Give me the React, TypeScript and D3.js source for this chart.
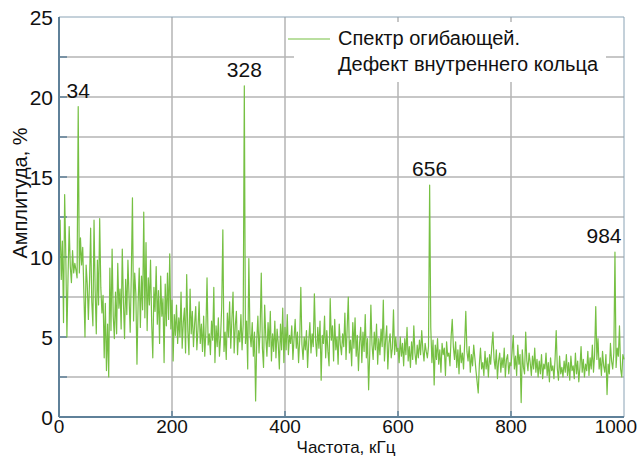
import React from "react";
import * as d3 from "d3";

// Envelope spectrum, inner race defect. One value every 2 kHz, 0..1000 kHz
const freqStep = 2;
const amplitude: number[] = [
  9.2, 12.3, 8.6, 11.0, 5.9, 13.9, 10.2, 5.0, 8.8, 11.9, 9.4, 8.4, 10.4, 9.0, 9.6, 9.2, 8.7, 19.4, 9.0, 11.2, 9.5, 10.6, 7.8, 5.0, 9.5,
  8.3, 6.1, 8.4, 11.8, 7.2, 5.7, 12.3, 7.9, 5.2, 9.8, 7.0, 12.4, 8.1, 6.5, 7.6, 3.7, 7.1, 2.9, 5.8, 2.5, 9.3, 5.4, 10.5, 6.3, 4.9,
  7.8, 5.2, 9.6, 6.8, 8.0, 5.5, 10.5, 7.2, 4.9, 8.6, 6.4, 9.8, 7.5, 5.3, 8.9, 13.7, 6.0, 9.0, 7.7, 3.3, 7.1, 9.3, 5.6, 8.8, 6.7,
  12.8, 6.2, 10.9, 5.4, 8.7, 7.0, 9.8, 5.9, 3.7, 8.1, 6.6, 9.4, 5.8, 7.9, 4.6, 8.8, 6.3, 7.4, 3.4, 8.3, 5.7, 9.0, 6.1, 10.2, 5.5,
  7.3, 3.5, 6.4, 5.1, 7.0, 4.6, 6.2, 5.0, 7.8, 4.3, 5.9, 6.8, 4.0, 8.9, 5.4, 3.9, 8.0, 5.2, 6.6, 4.4, 5.8, 6.9, 4.2, 5.5, 7.2,
  4.6, 5.8, 4.1, 6.3, 3.8, 5.4, 8.7, 4.5, 5.2, 3.9, 6.0, 4.8, 8.1, 3.4, 5.7, 4.4, 6.2, 3.8, 5.0, 6.9, 11.7, 4.1, 5.3, 3.6, 6.5,
  5.0, 7.2, 4.3, 6.1, 7.8, 4.0, 5.7, 6.6, 3.9, 5.4, 4.7, 6.4, 4.2, 5.8, 20.7, 4.6, 6.0, 3.0, 9.9, 5.2, 4.4, 5.9, 3.8, 5.3, 1.0,
  4.8, 6.3, 4.0, 5.5, 9.0, 4.3, 3.1, 7.0, 5.0, 3.8, 5.9, 4.4, 6.6, 3.5, 5.2, 4.1, 6.0, 3.7, 5.5, 4.6, 3.0, 5.8, 4.2, 6.8, 3.4,
  5.6, 4.2, 6.4, 3.9, 5.1, 4.6, 5.7, 3.6, 4.9, 6.1, 4.3, 5.3, 3.4, 4.8, 8.1, 4.5, 3.6, 5.0, 4.2, 5.4, 3.1, 4.7, 5.9, 4.0, 5.2,
  4.4, 7.7, 4.9, 3.8, 5.6, 4.3, 6.0, 2.3, 5.1, 4.6, 6.3, 3.7, 5.4, 4.1, 3.2, 7.4, 4.8, 5.7, 3.5, 6.1, 4.2, 5.0, 3.3, 5.8, 4.5,
  3.9, 5.2, 4.4, 6.5, 3.6, 5.5, 7.5, 4.0, 4.8, 3.2, 5.9, 4.3, 6.2, 3.8, 5.1, 2.9, 4.6, 5.6, 3.4, 5.3, 4.1, 6.4, 3.7, 4.9, 1.7,
  4.0, 7.0, 4.5, 3.6, 5.3, 4.2, 5.8, 3.3, 4.9, 3.9, 5.5, 4.4, 7.3, 3.5, 4.8, 5.7, 3.0, 4.6, 5.2, 3.7, 4.3, 6.7, 3.9, 5.0, 4.1,
  4.3, 3.4, 5.0, 3.8, 4.6, 3.2, 4.9, 3.9, 5.6, 3.5, 4.4, 3.1, 4.7, 3.6, 5.7, 4.0, 3.3, 4.5, 3.7, 4.8, 3.9, 5.4, 4.2, 3.5, 4.6,
  4.1, 3.7, 4.4, 14.5, 5.6, 3.4, 4.8, 2.0, 4.5, 3.6, 4.9, 3.3, 4.2, 2.8, 4.6, 3.9, 4.3, 2.6, 4.7, 3.8, 4.0, 3.2, 5.0, 6.1, 4.4,
  3.6, 4.7, 3.1, 4.2, 2.7, 4.5, 3.4, 4.0, 3.0, 4.6, 6.6, 4.1, 3.5, 4.4, 2.8, 3.9, 3.2, 4.5, 3.7, 2.9, 2.2, 1.5, 3.3, 4.3, 3.0,
  3.4, 2.6, 4.1, 3.0, 3.7, 2.5, 3.9, 3.3, 4.4, 5.3, 3.6, 3.0, 4.2, 2.4, 3.5, 4.0, 2.8, 3.7, 3.1, 4.3, 2.5, 3.6, 3.9, 2.7, 3.4,
  3.2, 4.1, 5.1, 3.0, 3.8, 2.6, 4.5, 3.3, 3.9, 0.9, 4.2, 3.1, 2.7, 5.3, 3.5, 2.9, 4.0, 3.4, 2.6, 3.8, 3.0, 4.3, 2.8, 3.6, 2.5,
  3.5, 2.7, 3.9, 2.4, 3.3, 3.0, 4.0, 2.6, 3.4, 2.2, 3.7, 2.9, 3.2, 2.4, 3.6, 5.4, 3.0, 2.3, 3.8, 2.7, 3.1, 2.5, 3.5, 2.8, 3.9,
  2.6, 3.4, 2.3, 3.8, 2.9, 3.2, 2.4, 4.0, 2.7, 3.5, 2.2, 3.1, 4.4, 2.8, 3.6, 2.5, 3.3, 2.9, 4.1, 2.6, 3.7, 3.0, 4.5, 2.8, 3.9,
  6.9, 3.6, 4.9, 3.0, 3.7, 2.6, 4.1, 3.2, 2.8, 3.9, 1.4, 3.3, 2.7, 4.6, 3.5, 3.0, 4.0, 10.3, 3.1, 4.3, 3.8, 5.7, 3.0, 2.5, 3.9,
  3.6,
];

const peakFreqs = [34, 328, 656, 984];
const xTicks = [0, 200, 400, 600, 800, 1000];
const yTicks = [0, 5, 10, 15, 20, 25];
const yGrid = [2.5, 5, 7.5, 10, 12.5, 15, 17.5, 20, 22.5];
const legendLines = ["Спектр огибающей.", "Дефект внутреннего кольца"];
const xTitle = "Частота, кГц";
const yTitle = "Амплитуда, %";

const W = 640;
const H = 457;
const margin = { top: 17, right: 16, bottom: 40, left: 59 };

const GREEN = "#76c043";
const FRAME = "#5f8199";
const GRID = "#b4b4b4";
const narrow = "'Liberation Sans Narrow', 'Liberation Sans', sans-serif";
const sans = "'Liberation Sans', Arial, sans-serif";

export default function App() {
  const x = d3.scaleLinear().domain([0, 1000]).range([margin.left, W - margin.right]);
  const y = d3.scaleLinear().domain([0, 25]).range([H - margin.bottom, margin.top]);

  const data = amplitude.map((a, i) => ({ f: i * freqStep, a }));
  const line = d3.line<{ f: number; a: number }>().x(d => x(d.f)).y(d => y(d.a));

  const x0 = x(0), x1 = x(1000), y0 = y(0), y1 = y(25);

  return (
    <svg width={W} height={H} style={{ position: "absolute", left: 0, top: 0, background: "#fff" }}>
      {/* grid */}
      {yGrid.map(v => (
        <line key={"gy" + v} x1={x0} x2={x1} y1={y(v)} y2={y(v)} stroke={GRID} strokeWidth={1.5} />
      ))}
      {xTicks.slice(1, -1).map(v => (
        <line key={"gx" + v} x1={x(v)} x2={x(v)} y1={y1} y2={y0} stroke={GRID} strokeWidth={1.5} />
      ))}
      {/* legend box hides grid */}
      <rect x={294} y={22} width={312} height={60} fill="#fff" />

      {/* frame */}
      <line x1={x0} x2={x1} y1={y1} y2={y1} stroke="#8aa3b5" strokeWidth={1} />
      <line x1={x1} x2={x1} y1={y1} y2={y0} stroke="#8aa3b5" strokeWidth={1} />
      {yGrid.map(v => (
        <line key={"ty" + v} x1={x0} x2={x0 + 8} y1={y(v)} y2={y(v)} stroke={FRAME} strokeWidth={1.5} />
      ))}
      {xTicks.slice(1, -1).map(v => (
        <line key={"tx" + v} x1={x(v)} x2={x(v)} y1={y0} y2={y0 - 6} stroke={FRAME} strokeWidth={1.5} />
      ))}

      {/* spectrum */}
      <path d={line(data) || ""} fill="none" stroke={GREEN} strokeWidth={1.2} strokeLinejoin="round" />

      <line x1={x0} x2={x0} y1={y1} y2={y0} stroke={FRAME} strokeWidth={2} />
      <line x1={x0} x2={x1} y1={y0} y2={y0} stroke={FRAME} strokeWidth={2} />

      {/* tick labels */}
      {yTicks.map(v => (
        <text key={"ly" + v} x={53} y={y(v)} dy="0.36em" textAnchor="end" fontFamily={narrow} fontSize={21} fill="#111">
          {v}
        </text>
      ))}
      {xTicks.map(v => (
        <text
          key={"lx" + v}
          x={v === 1000 ? 637 : x(v)}
          y={433}
          textAnchor={v === 1000 ? "end" : "middle"}
          fontFamily={narrow}
          fontSize={19}
          fill="#111"
        >
          {v}
        </text>
      ))}

      {/* peak labels */}
      {peakFreqs.map(f => {
        const a = amplitude[Math.round(f / freqStep)];
        const px = f === 984 ? 604 : x(f);
        return (
          <text key={"p" + f} x={px} y={y(a) - 9} textAnchor="middle" fontFamily={narrow} fontSize={21} fill="#111">
            {f}
          </text>
        );
      })}

      {/* legend */}
      <line x1={288} x2={330} y1={39} y2={39} stroke={GREEN} strokeWidth={1.2} />
      {legendLines.map((t, i) => (
        <text key={"lg" + i} x={338} y={45 + i * 26} fontFamily={sans} fontSize={20} fill="#111">
          {t}
        </text>
      ))}

      {/* axis titles */}
      <text x={346} y={453} textAnchor="middle" fontFamily={sans} fontSize={17} fill="#111">
        {xTitle}
      </text>
      <text transform={`translate(27,193) rotate(-90)`} textAnchor="middle" fontFamily={sans} fontSize={20} fill="#111">
        {yTitle}
      </text>
    </svg>
  );
}
